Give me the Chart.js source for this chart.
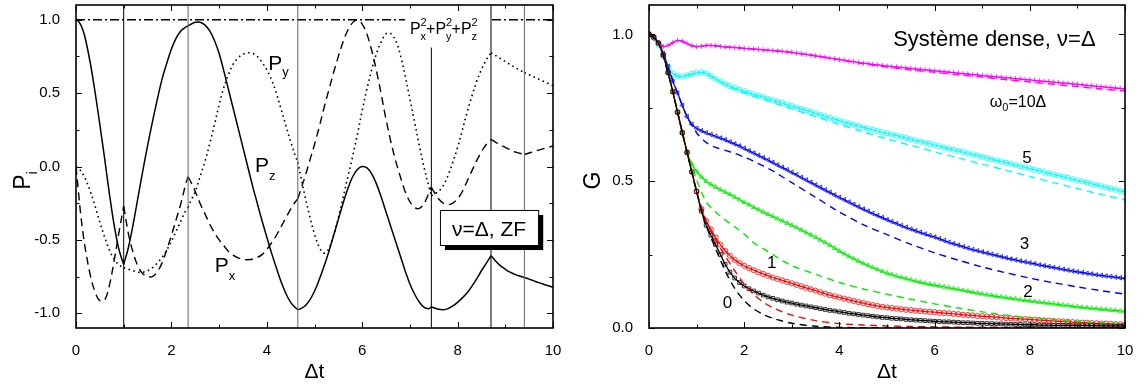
<!DOCTYPE html>
<html>
<head>
<meta charset="utf-8">
<script src="https://cdn.jsdelivr.net/npm/chart.js@4.4.0/dist/chart.umd.min.js"></script>
<style>
  body { margin: 0; background: #fff; }
  #wrap { position: relative; width: 1144px; height: 385px; }
  canvas { position: absolute; top: 0; }
</style>
</head>
<body>
<div id="wrap">
  <canvas id="leftChart" width="572" height="385" style="left:0"></canvas>
  <canvas id="rightChart" width="572" height="385" style="left:572px"></canvas>
</div>
<script>
const FONT = '"Liberation Sans", Arial, Helvetica, sans-serif';

// ---------- left panel: polarisation components ----------
const collisions = [1.0, 2.35, 4.65, 7.45, 8.7, 9.4];
const collisionShade = ["#000", "#666", "#666", "#000", "#000", "#666"];
const normLevel = 1;

const tP = [0, 0.05, 0.1, 0.15, 0.2, 0.3, 0.4, 0.5, 0.6, 0.7, 0.8, 0.9, 1.0,
  1.1, 1.2, 1.3, 1.4, 1.5, 1.6, 1.7, 1.8, 1.9, 2.0, 2.1, 2.2, 2.3, 2.35,
  2.4, 2.5, 2.6, 2.7, 2.8, 2.9, 3.0, 3.1, 3.2, 3.3, 3.4, 3.5, 3.6, 3.7, 3.8, 3.9, 4.0, 4.1, 4.2, 4.3, 4.4, 4.5, 4.6, 4.65,
  4.7, 4.8, 4.9, 5.0, 5.1, 5.2, 5.3, 5.4, 5.5, 5.6, 5.7, 5.8, 5.9, 6.0, 6.1, 6.2, 6.3, 6.4, 6.5, 6.6, 6.7, 6.8, 6.9, 7.0, 7.1, 7.2, 7.3, 7.4, 7.45,
  7.5, 7.6, 7.7, 7.8, 7.9, 8.0, 8.1, 8.2, 8.3, 8.4, 8.5, 8.6, 8.7,
  8.8, 8.9, 9.0, 9.1, 9.2, 9.3, 9.4,
  9.5, 9.6, 9.7, 9.8, 9.9, 10];

const px = [1.0, 0.99, 0.965, 0.925, 0.865, 0.705, 0.505, 0.285, 0.055, -0.185, -0.40, -0.565, -0.668,
  -0.55, -0.39, -0.21, -0.03, 0.14, 0.30, 0.45, 0.59, 0.70, 0.80, 0.875, 0.925, 0.95, 0.957,
  0.967, 0.982, 0.983, 0.965, 0.925, 0.86, 0.77, 0.65, 0.52, 0.39, 0.26, 0.13, 0.0, -0.13, -0.25, -0.37, -0.48, -0.59, -0.69, -0.785, -0.865, -0.925, -0.962, -0.975,
  -0.97, -0.95, -0.91, -0.85, -0.77, -0.68, -0.58, -0.47, -0.36, -0.25, -0.15, -0.07, -0.02, 0.0, -0.01, -0.05, -0.12, -0.21, -0.31, -0.41, -0.51, -0.61, -0.71, -0.80, -0.87, -0.925, -0.96, -0.968, -0.955,
  -0.962, -0.972, -0.975, -0.968, -0.95, -0.925, -0.895, -0.86, -0.815, -0.765, -0.71, -0.66, -0.607,
  -0.645, -0.677, -0.70, -0.72, -0.735, -0.746, -0.755,
  -0.767, -0.779, -0.791, -0.802, -0.812, -0.822];

const py = [0.0, -0.01, -0.03, -0.055, -0.085, -0.17, -0.27, -0.38, -0.48, -0.57, -0.63, -0.67, -0.69,
  -0.70, -0.71, -0.72, -0.72, -0.71, -0.69, -0.66, -0.62, -0.57, -0.51, -0.44, -0.37, -0.30, -0.28,
  -0.24, -0.17, -0.07, 0.03, 0.15, 0.28, 0.42, 0.54, 0.63, 0.70, 0.74, 0.765, 0.775, 0.77, 0.75, 0.71, 0.66, 0.59, 0.50, 0.39, 0.28, 0.17, 0.07, 0.03,
  -0.05, -0.20, -0.34, -0.46, -0.55, -0.59, -0.56, -0.47, -0.35, -0.21, -0.07, 0.07, 0.22, 0.38, 0.53, 0.66, 0.77, 0.85, 0.905, 0.905, 0.86, 0.76, 0.62, 0.46, 0.30, 0.14, -0.01, -0.14, -0.20,
  -0.19, -0.17, -0.13, -0.06, 0.03, 0.13, 0.25, 0.37, 0.48, 0.58, 0.66, 0.725, 0.775,
  0.755, 0.735, 0.715, 0.695, 0.675, 0.657, 0.64,
  0.625, 0.61, 0.595, 0.58, 0.565, 0.55];

const pz = [0.0, -0.17, -0.33, -0.46, -0.57, -0.74, -0.855, -0.915, -0.91, -0.81, -0.64, -0.45, -0.27,
  -0.46, -0.59, -0.68, -0.73, -0.75, -0.75, -0.72, -0.66, -0.57, -0.47, -0.36, -0.25, -0.12, -0.07,
  -0.10, -0.17, -0.25, -0.32, -0.39, -0.45, -0.50, -0.54, -0.58, -0.605, -0.622, -0.632, -0.635, -0.632, -0.62, -0.60, -0.565, -0.52, -0.47, -0.41, -0.35, -0.29, -0.24, -0.22,
  -0.17, -0.07, 0.04, 0.15, 0.27, 0.40, 0.52, 0.64, 0.75, 0.85, 0.93, 0.98, 1.0, 0.97, 0.90, 0.79, 0.65, 0.49, 0.32, 0.17, 0.04, -0.07, -0.17, -0.24, -0.28, -0.285, -0.25, -0.18, -0.14,
  -0.17, -0.22, -0.25, -0.26, -0.25, -0.22, -0.17, -0.10, -0.03, 0.04, 0.10, 0.15, 0.184,
  0.165, 0.147, 0.13, 0.115, 0.10, 0.09, 0.082,
  0.092, 0.102, 0.112, 0.122, 0.131, 0.14];

// ---------- right panel: relaxation functions ----------
const tG = [0, 0.1, 0.2, 0.3, 0.4, 0.5, 0.6, 0.7, 0.8, 0.9, 1.0,
  1.1, 1.2, 1.3, 1.4, 1.5, 1.6, 1.7, 1.8, 1.9, 2.0,
  2.1, 2.2, 2.3, 2.4, 2.5, 2.6, 2.7, 2.8, 2.9, 3.0,
  3.1, 3.2, 3.3, 3.4, 3.5, 3.6, 3.7, 3.8, 3.9, 4.0,
  4.1, 4.2, 4.3, 4.4, 4.5, 4.6, 4.7, 4.8, 4.9, 5.0,
  5.1, 5.2, 5.3, 5.4, 5.5, 5.6, 5.7, 5.8, 5.9, 6.0,
  6.1, 6.2, 6.3, 6.4, 6.5, 6.6, 6.7, 6.8, 6.9, 7.0,
  7.1, 7.2, 7.3, 7.4, 7.5, 7.6, 7.7, 7.8, 7.9, 8.0,
  8.1, 8.2, 8.3, 8.4, 8.5, 8.6, 8.7, 8.8, 8.9, 9.0,
  9.1, 9.2, 9.3, 9.4, 9.5, 9.6, 9.7, 9.8, 9.9, 10];

const g0 = [1.0, 0.99, 0.97, 0.93, 0.87, 0.805, 0.735, 0.665, 0.598, 0.532, 0.465,
  0.398, 0.35, 0.316, 0.284, 0.25, 0.217, 0.19, 0.17, 0.155, 0.143,
  0.134, 0.126, 0.119, 0.112, 0.106, 0.101, 0.096, 0.092, 0.088, 0.085,
  0.081, 0.078, 0.075, 0.072, 0.069, 0.066, 0.063, 0.06, 0.058, 0.055,
  0.053, 0.05, 0.048, 0.046, 0.044, 0.042, 0.04, 0.038, 0.036, 0.035,
  0.033, 0.032, 0.031, 0.029, 0.028, 0.027, 0.026, 0.025, 0.024, 0.023,
  0.022, 0.021, 0.021, 0.02, 0.019, 0.018, 0.018, 0.017, 0.016, 0.016,
  0.015, 0.015, 0.014, 0.014, 0.013, 0.013, 0.012, 0.012, 0.011, 0.011,
  0.011, 0.01, 0.01, 0.01, 0.009, 0.009, 0.009, 0.009, 0.008, 0.008,
  0.008, 0.008, 0.008, 0.007, 0.007, 0.007, 0.007, 0.007, 0.007, 0.007];

const g1 = [1.0, 0.99, 0.97, 0.93, 0.87, 0.805, 0.735, 0.665, 0.598, 0.532, 0.465,
  0.405, 0.365, 0.336, 0.308, 0.284, 0.263, 0.246, 0.232, 0.221, 0.212,
  0.204, 0.197, 0.19, 0.184, 0.178, 0.172, 0.167, 0.162, 0.157, 0.152,
  0.147, 0.142, 0.137, 0.132, 0.127, 0.122, 0.117, 0.112, 0.108, 0.104,
  0.1, 0.096, 0.092, 0.088, 0.085, 0.081, 0.078, 0.075, 0.072, 0.07,
  0.068, 0.066, 0.064, 0.062, 0.061, 0.059, 0.058, 0.056, 0.055, 0.054,
  0.052, 0.051, 0.05, 0.048, 0.047, 0.045, 0.044, 0.043, 0.041, 0.04,
  0.039, 0.038, 0.037, 0.035, 0.034, 0.033, 0.032, 0.031, 0.03, 0.029,
  0.028, 0.027, 0.026, 0.025, 0.024, 0.023, 0.022, 0.021, 0.02, 0.019,
  0.018, 0.018, 0.017, 0.016, 0.015, 0.015, 0.014, 0.013, 0.013, 0.012];

const g2 = [1.0, 0.99, 0.97, 0.93, 0.87, 0.805, 0.735, 0.665, 0.6, 0.558, 0.533,
  0.515, 0.5, 0.489, 0.48, 0.471, 0.463, 0.455, 0.446, 0.437, 0.428,
  0.42, 0.411, 0.403, 0.395, 0.387, 0.38, 0.372, 0.365, 0.357, 0.35,
  0.342, 0.334, 0.325, 0.317, 0.309, 0.3, 0.291, 0.282, 0.272, 0.262,
  0.253, 0.244, 0.236, 0.228, 0.22, 0.213, 0.206, 0.199, 0.193, 0.187,
  0.182, 0.177, 0.172, 0.168, 0.164, 0.16, 0.156, 0.152, 0.149, 0.146,
  0.143, 0.14, 0.137, 0.134, 0.131, 0.128, 0.125, 0.122, 0.119, 0.116,
  0.113, 0.111, 0.108, 0.106, 0.103, 0.101, 0.099, 0.096, 0.094, 0.092,
  0.09, 0.088, 0.086, 0.084, 0.082, 0.08, 0.078, 0.076, 0.074, 0.072,
  0.07, 0.069, 0.067, 0.066, 0.064, 0.063, 0.061, 0.06, 0.058, 0.057];

const g3 = [1.0, 0.99, 0.97, 0.935, 0.89, 0.84, 0.8, 0.758, 0.72, 0.694, 0.68,
  0.672, 0.665, 0.659, 0.653, 0.647, 0.641, 0.634, 0.627, 0.62, 0.612,
  0.604, 0.596, 0.588, 0.58, 0.572, 0.564, 0.555, 0.547, 0.539, 0.53,
  0.522, 0.513, 0.504, 0.496, 0.487, 0.479, 0.47, 0.462, 0.453, 0.445,
  0.437, 0.429, 0.421, 0.413, 0.405, 0.398, 0.39, 0.383, 0.376, 0.369,
  0.362, 0.356, 0.349, 0.343, 0.337, 0.331, 0.326, 0.32, 0.315, 0.31,
  0.304, 0.298, 0.292, 0.287, 0.282, 0.277, 0.272, 0.267, 0.263, 0.259,
  0.255, 0.251, 0.247, 0.243, 0.239, 0.235, 0.232, 0.228, 0.225, 0.222,
  0.219, 0.215, 0.212, 0.209, 0.206, 0.203, 0.2, 0.197, 0.194, 0.191,
  0.189, 0.186, 0.184, 0.181, 0.179, 0.177, 0.175, 0.173, 0.171, 0.169];

const g5 = [1.0, 0.99, 0.965, 0.925, 0.89, 0.866, 0.858, 0.857, 0.86, 0.865, 0.869,
  0.871, 0.867, 0.858, 0.848, 0.839, 0.831, 0.824, 0.817, 0.811, 0.806,
  0.801, 0.796, 0.791, 0.786, 0.781, 0.776, 0.771, 0.766, 0.761, 0.756,
  0.751, 0.746, 0.741, 0.736, 0.731, 0.726, 0.721, 0.716, 0.711, 0.706,
  0.701, 0.697, 0.692, 0.688, 0.683, 0.679, 0.675, 0.671, 0.667, 0.663,
  0.659, 0.655, 0.651, 0.647, 0.643, 0.639, 0.635, 0.631, 0.627, 0.623,
  0.619, 0.615, 0.611, 0.607, 0.603, 0.599, 0.595, 0.591, 0.587, 0.583,
  0.579, 0.575, 0.571, 0.567, 0.563, 0.559, 0.555, 0.551, 0.547, 0.543,
  0.539, 0.535, 0.531, 0.527, 0.523, 0.519, 0.515, 0.511, 0.507, 0.503,
  0.499, 0.495, 0.491, 0.487, 0.483, 0.479, 0.475, 0.471, 0.467, 0.463];

const g10 = [1.0, 0.985, 0.967, 0.958, 0.962, 0.972, 0.979, 0.977, 0.969, 0.961, 0.958,
  0.96, 0.962, 0.962, 0.961, 0.959, 0.957, 0.956, 0.955, 0.954, 0.952,
  0.951, 0.95, 0.949, 0.947, 0.946, 0.945, 0.943, 0.942, 0.94, 0.939,
  0.936, 0.934, 0.932, 0.929, 0.927, 0.924, 0.922, 0.919, 0.917, 0.914,
  0.912, 0.909, 0.907, 0.904, 0.902, 0.9, 0.898, 0.896, 0.894, 0.892,
  0.89, 0.889, 0.887, 0.886, 0.884, 0.882, 0.881, 0.879, 0.878, 0.876,
  0.874, 0.873, 0.871, 0.87, 0.868, 0.866, 0.865, 0.863, 0.862, 0.86,
  0.858, 0.857, 0.855, 0.854, 0.852, 0.851, 0.849, 0.848, 0.846, 0.845,
  0.843, 0.842, 0.84, 0.839, 0.837, 0.836, 0.834, 0.833, 0.831, 0.83,
  0.828, 0.826, 0.825, 0.823, 0.822, 0.82, 0.819, 0.817, 0.816, 0.814];

// dashed companions, coarser grid
const tDash = [0, 0.2, 0.4, 0.6, 0.8, 1.0, 1.2, 1.4, 1.6, 1.8, 2.0, 2.2, 2.4, 2.6, 2.8, 3.0,
  3.5, 4.0, 4.5, 5.0, 5.5, 6.0, 6.5, 7.0, 7.5, 8.0, 8.5, 9.0, 9.5, 10];
const d0 = [1.0, 0.97, 0.87, 0.735, 0.598, 0.465, 0.35, 0.27, 0.195, 0.135, 0.093, 0.065, 0.046, 0.033, 0.024, 0.016,
  0.006, 0.002, 0.001, 0, 0, 0, 0, 0, 0, 0, 0, 0, 0, 0];
const d1 = [1.0, 0.97, 0.87, 0.735, 0.598, 0.465, 0.365, 0.3, 0.245, 0.195, 0.15, 0.115, 0.088, 0.069, 0.055, 0.044,
  0.025, 0.015, 0.01, 0.007, 0.005, 0.004, 0.003, 0.003, 0.002, 0.002, 0.002, 0.002, 0.001, 0.001];
const d2 = [1.0, 0.97, 0.87, 0.735, 0.598, 0.505, 0.43, 0.395, 0.368, 0.345, 0.32, 0.29, 0.27, 0.25, 0.23, 0.212,
  0.183, 0.155, 0.133, 0.115, 0.098, 0.082, 0.068, 0.055, 0.044, 0.035, 0.028, 0.022, 0.018, 0.015];
const d3 = [1.0, 0.97, 0.89, 0.8, 0.72, 0.665, 0.632, 0.615, 0.605, 0.595, 0.582, 0.568, 0.552, 0.535, 0.515, 0.495,
  0.445, 0.395, 0.352, 0.318, 0.285, 0.256, 0.231, 0.208, 0.188, 0.17, 0.154, 0.14, 0.127, 0.115];
const d5 = [1.0, 0.965, 0.89, 0.858, 0.86, 0.869, 0.867, 0.848, 0.83, 0.814, 0.802, 0.79, 0.779, 0.768, 0.757, 0.746,
  0.72, 0.693, 0.668, 0.644, 0.622, 0.6, 0.579, 0.558, 0.537, 0.516, 0.495, 0.475, 0.455, 0.436];
const d10 = [1.0, 0.967, 0.962, 0.979, 0.969, 0.958, 0.962, 0.961, 0.957, 0.955, 0.952, 0.95, 0.947, 0.945, 0.942, 0.938,
  0.927, 0.913, 0.9, 0.889, 0.879, 0.871, 0.862, 0.855, 0.846, 0.838, 0.83, 0.822, 0.814, 0.807];

// ---------- helpers ----------
function drawRich(ctx, x, y, parts) {
  let cx = x;
  for (const p of parts) {
    ctx.font = `${p.s}px ${FONT}`;
    ctx.fillText(p.t, cx, y + (p.dy || 0));
    if (!p.keep) cx += ctx.measureText(p.t).width;
  }
  return cx - x;
}
function richWidth(ctx, parts) {
  let w = 0;
  for (const p of parts) {
    ctx.font = `${p.s}px ${FONT}`;
    if (!p.keep) w += ctx.measureText(p.t).width;
  }
  return w;
}

const frameTicks = {
  id: "frameTicks",
  afterDatasetsDraw(chart) {
    const { ctx, chartArea: a, scales: { x, y } } = chart;
    const major = (s) => s.ticks.map(t => t.value);
    const minor = (s) => { const m = major(s); return m.slice(1).map((v, i) => (v + m[i]) / 2); };
    ctx.save();
    ctx.strokeStyle = "#000";
    ctx.lineWidth = 1;
    ctx.beginPath();
    const xt = (v, len) => { const p = Math.round(x.getPixelForValue(v)) + 0.5;
      ctx.moveTo(p, a.bottom); ctx.lineTo(p, a.bottom - len); ctx.moveTo(p, a.top); ctx.lineTo(p, a.top + len); };
    const yt = (v, len) => { const p = Math.round(y.getPixelForValue(v)) + 0.5;
      ctx.moveTo(a.left, p); ctx.lineTo(a.left + len, p); ctx.moveTo(a.right, p); ctx.lineTo(a.right - len, p); };
    major(x).forEach(v => xt(v, 6)); minor(x).forEach(v => xt(v, 3.5));
    major(y).forEach(v => yt(v, 6)); minor(y).forEach(v => yt(v, 3.5));
    ctx.stroke();
    ctx.lineWidth = 1.6;
    ctx.strokeRect(a.left, a.top, a.right - a.left, a.bottom - a.top);
    ctx.restore();
  }
};

const notes = {
  id: "notes",
  afterDraw(chart, args, opts) {
    const { ctx, chartArea: a, scales: { x, y } } = chart;
    ctx.save();
    ctx.fillStyle = "#000";
    ctx.textBaseline = "alphabetic";
    if (opts.box) {
      const b = opts.box;
      const x0 = x.getPixelForValue(b.x0), x1 = x.getPixelForValue(b.x1);
      const y0 = y.getPixelForValue(b.y0), y1 = y.getPixelForValue(b.y1);
      ctx.fillStyle = "#000";
      ctx.fillRect(x0 + 5, y0 + 5, x1 - x0, y1 - y0);
      ctx.fillStyle = "#fff";
      ctx.fillRect(x0, y0, x1 - x0, y1 - y0);
      ctx.strokeStyle = "#000"; ctx.lineWidth = 1;
      ctx.strokeRect(x0 + 0.5, y0 + 0.5, x1 - x0, y1 - y0);
      ctx.fillStyle = "#000";
      const w = richWidth(ctx, b.parts);
      drawRich(ctx, (x0 + x1) / 2 - w / 2, y1 - 9, b.parts);
    }
    for (const n of opts.items) {
      drawRich(ctx, x.getPixelForValue(n.x), y.getPixelForValue(n.y), n.parts);
    }
    // axis titles
    const cx = (a.left + a.right) / 2;
    const wx = richWidth(ctx, opts.xTitle);
    drawRich(ctx, cx - wx / 2, a.bottom + 50, opts.xTitle);
    ctx.translate(opts.yTitleX, (a.top + a.bottom) / 2 + 14);
    ctx.rotate(-Math.PI / 2);
    const wy = richWidth(ctx, opts.yTitle);
    drawRich(ctx, -wy / 2, 0, opts.yTitle);
    ctx.restore();
  }
};

function axes(yMin, yMax, yWidth) {
  const tickFont = { family: FONT, size: 15 };
  return {
    x: {
      type: "linear", min: 0, max: 10,
      afterFit: (s) => { s.height = 57; s.paddingLeft = 0; s.paddingRight = 0; },
      ticks: { stepSize: 2, includeBounds: false, padding: 6, color: "#000", font: tickFont, maxRotation: 0,
        callback: (v) => String(v) },
      grid: { display: false }, border: { display: false }
    },
    y: {
      type: "linear", min: yMin, max: yMax,
      afterFit: (s) => { s.width = yWidth; s.paddingTop = 0; s.paddingBottom = 0; },
      ticks: { stepSize: 0.5, includeBounds: false, padding: 8, color: "#000", font: tickFont,
        callback: (v) => v.toFixed(1) },
      grid: { display: false }, border: { display: false }
    }
  };
}

const pts = (xs, ys) => xs.map((t, i) => ({ x: t, y: ys[i] }));

// ---------- left chart ----------
const breaks = [0, ...collisions, 10];
function pieces(vals, style) {
  const out = [];
  for (let k = 0; k < breaks.length - 1; k++) {
    const seg = [];
    tP.forEach((t, i) => {
      if (t >= breaks[k] - 1e-9 && t <= breaks[k + 1] + 1e-9) seg.push({ x: t, y: vals[i] });
    });
    out.push(Object.assign({ data: seg, pointRadius: 0, tension: 0.35, fill: false }, style));
  }
  return out;
}

const leftSets = [];
collisions.forEach((c, i) => {
  leftSets.push({ data: [{ x: c, y: -1.1 }, { x: c, y: c === 7.45 ? 0.81 : 1.1 }],
    borderColor: collisionShade[i], borderWidth: 1, pointRadius: 0, tension: 0 });
});
leftSets.push({ data: [{ x: 0, y: normLevel }, { x: 6.9, y: normLevel }, { x: 6.9, y: null }, { x: 8.72, y: normLevel }, { x: 10, y: normLevel }],
  borderColor: "#000", borderWidth: 1.4, borderDash: [9, 3, 2, 3], pointRadius: 0, spanGaps: false, tension: 0 });
leftSets.push(...pieces(px, { borderColor: "#000", borderWidth: 1.5 }));
leftSets.push(...pieces(py, { borderColor: "#000", borderWidth: 1.6, borderDash: [1.6, 3.4] }));
leftSets.push(...pieces(pz, { borderColor: "#000", borderWidth: 1.4, borderDash: [8, 5] }));

new Chart(document.getElementById("leftChart"), {
  type: "line",
  data: { datasets: leftSets },
  options: {
    responsive: false, animation: false, events: [],
    layout: { padding: { left: 0, right: 19, top: 5, bottom: 0 } },
    scales: axes(-1.1, 1.1, 76),
    plugins: {
      legend: { display: false }, tooltip: { enabled: false },
      notes: {
        items: [
          { x: 4.03, y: 0.66, parts: [{ t: "P", s: 21 }, { t: "y", s: 13, dy: 6 }] },
          { x: 3.75, y: -0.04, parts: [{ t: "P", s: 21 }, { t: "z", s: 13, dy: 8 }] },
          { x: 2.91, y: -0.716, parts: [{ t: "P", s: 21 }, { t: "x", s: 13, dy: 8 }] },
          { x: 7.0, y: 0.9, parts: [
            { t: "P", s: 16 }, { t: "2", s: 11, dy: -8, keep: true }, { t: "x", s: 11, dy: 6 },
            { t: "+P", s: 16 }, { t: "2", s: 11, dy: -8, keep: true }, { t: "y", s: 11, dy: 6 },
            { t: "+P", s: 16 }, { t: "2", s: 11, dy: -8, keep: true }, { t: "z", s: 11, dy: 6 }] }
        ],
        box: { x0: 7.63, x1: 9.69, y0: -0.296, y1: -0.535, parts: [{ t: "ν=Δ, ZF", s: 21 }] },
        xTitle: [{ t: "Δt", s: 21 }],
        yTitle: [{ t: "P", s: 23 }, { t: "i", s: 14, dy: 7 }],
        yTitleX: 30
      }
    }
  },
  plugins: [frameTicks, notes]
});

// ---------- right chart ----------
const curves = [
  { vals: g0, dash: d0, color: "#000000", marker: "rect", rot: 0 },
  { vals: g1, dash: d1, color: "#ff0000", marker: "circle", rot: 0 },
  { vals: g2, dash: d2, color: "#00ee00", marker: "triangle", rot: 0 },
  { vals: g3, dash: d3, color: "#0000ff", marker: "triangle", rot: -90 },
  { vals: g5, dash: d5, color: "#00ffff", marker: "circle", rot: 0 },
  { vals: g10, dash: d10, color: "#ff00ff", marker: "cross", rot: 0 }
];
const rightSets = [];
curves.forEach(c => {
  rightSets.push({ data: pts(tDash, c.dash), borderColor: c.color, borderWidth: 1.4, borderDash: [7, 5],
    pointRadius: 0, tension: 0.3 });
});
curves.forEach(c => {
  rightSets.push({ data: pts(tG, c.vals), borderColor: c.color, borderWidth: 1.3, tension: 0.2,
    pointStyle: c.marker, pointRotation: c.rot, pointRadius: 2.6, pointBorderWidth: 0.8,
    pointBorderColor: c.color, pointBackgroundColor: "rgba(255,255,255,0)" });
});

new Chart(document.getElementById("rightChart"), {
  type: "line",
  data: { datasets: rightSets },
  options: {
    responsive: false, animation: false, events: [],
    layout: { padding: { left: 0, right: 19, top: 5, bottom: 0 } },
    scales: axes(0, 1.1, 77),
    plugins: {
      legend: { display: false }, tooltip: { enabled: false },
      notes: {
        items: [
          { x: 5.13, y: 0.961, parts: [{ t: "Système dense, ν=Δ", s: 22 }] },
          { x: 7.16, y: 0.753, parts: [{ t: "ω", s: 16 }, { t: "0", s: 11, dy: 4 }, { t: "=10Δ", s: 16 }] },
          { x: 7.84, y: 0.5625, parts: [{ t: "5", s: 17 }] },
          { x: 7.79, y: 0.269, parts: [{ t: "3", s: 17 }] },
          { x: 7.86, y: 0.106, parts: [{ t: "2", s: 17 }] },
          { x: 2.48, y: 0.205, parts: [{ t: "1", s: 17 }] },
          { x: 1.55, y: 0.068, parts: [{ t: "0", s: 17 }] }
        ],
        xTitle: [{ t: "Δt", s: 21 }],
        yTitle: [{ t: "G", s: 23 }],
        yTitleX: 28
      }
    }
  },
  plugins: [frameTicks, notes]
});
</script>
</body>
</html>
